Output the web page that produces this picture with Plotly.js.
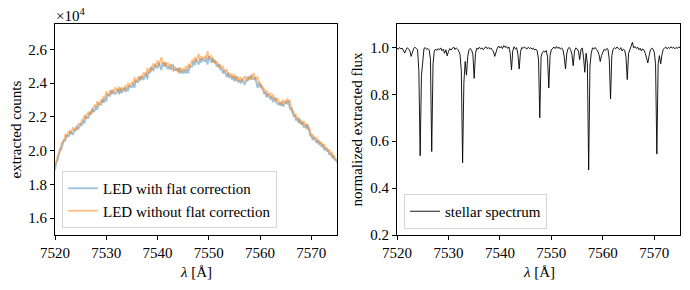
<!DOCTYPE html>
<html>
<head>
<meta charset="utf-8">
<script src="https://cdn.plot.ly/plotly-3.0.1.min.js"></script>
<style>html,body{margin:0;padding:0;background:#fff;}#chart{width:690px;height:290px;}</style>
</head>
<body>
<div id="chart"></div>
<script>
// wavelength grid [Å]
const wavelength = [7520,7520.25,7520.5,7520.75,7521,7521.25,7521.5,7521.75,7522,7522.25,7522.5,7522.75,7523,7523.25,7523.5,7523.75,7524,7524.25,7524.5,7524.75,7525,7525.25,7525.5,7525.75,7526,7526.25,7526.5,7526.75,7527,7527.25,7527.5,7527.75,7528,7528.25,7528.5,7528.75,7529,7529.25,7529.5,7529.75,7530,7530.25,7530.5,7530.75,7531,7531.25,7531.5,7531.75,7532,7532.25,7532.5,7532.75,7533,7533.25,7533.5,7533.75,7534,7534.25,7534.5,7534.75,7535,7535.25,7535.5,7535.75,7536,7536.25,7536.5,7536.75,7537,7537.25,7537.5,7537.75,7538,7538.25,7538.5,7538.75,7539,7539.25,7539.5,7539.75,7540,7540.25,7540.5,7540.75,7541,7541.25,7541.5,7541.75,7542,7542.25,7542.5,7542.75,7543,7543.25,7543.5,7543.75,7544,7544.25,7544.5,7544.75,7545,7545.25,7545.5,7545.75,7546,7546.25,7546.5,7546.75,7547,7547.25,7547.5,7547.75,7548,7548.25,7548.5,7548.75,7549,7549.25,7549.5,7549.75,7550,7550.25,7550.5,7550.75,7551,7551.25,7551.5,7551.75,7552,7552.25,7552.5,7552.75,7553,7553.25,7553.5,7553.75,7554,7554.25,7554.5,7554.75,7555,7555.25,7555.5,7555.75,7556,7556.25,7556.5,7556.75,7557,7557.25,7557.5,7557.75,7558,7558.25,7558.5,7558.75,7559,7559.25,7559.5,7559.75,7560,7560.25,7560.5,7560.75,7561,7561.25,7561.5,7561.75,7562,7562.25,7562.5,7562.75,7563,7563.25,7563.5,7563.75,7564,7564.25,7564.5,7564.75,7565,7565.25,7565.5,7565.75,7566,7566.25,7566.5,7566.75,7567,7567.25,7567.5,7567.75,7568,7568.25,7568.5,7568.75,7569,7569.25,7569.5,7569.75,7570,7570.25,7570.5,7570.75,7571,7571.25,7571.5,7571.75,7572,7572.25,7572.5,7572.75,7573,7573.25,7573.5,7573.75,7574,7574.25,7574.5,7574.75,7575];

// LED extracted counts, with flat correction
const ledWithFlat = [18840,19330,19400,19810,20120,20080,20400,20660,20560,20940,20860,20870,21160,21030,20940,21230,21200,21460,21270,21380,21600,21500,21760,21620,22040,21940,21930,22240,22180,22490,22320,22360,22630,22410,22780,22740,22720,23050,22840,23120,22910,23330,23260,23240,23580,23370,23490,23360,23460,23640,23340,23720,23420,23540,23740,23470,23730,23520,23870,23780,23750,24010,23720,24180,24100,24030,24380,24190,24420,24190,24380,24610,24220,24670,24580,24960,24810,24760,25090,24980,24870,25220,25020,24770,25200,24980,25230,24950,24830,24990,24800,25060,25070,24750,24780,24880,24660,24930,24580,24740,24570,24790,24570,24820,24580,25020,24960,24980,25280,25060,25420,25250,25090,25450,25210,25470,25330,25260,25480,25090,25590,25340,25210,25500,25210,25340,25020,25010,25130,24780,24860,24570,24750,24550,24350,24620,24320,24440,24210,24410,24110,24430,24160,24040,24200,23980,24240,24060,23900,24200,24100,24390,24230,24480,24250,24230,24370,24060,23720,24000,23750,23910,23580,23400,23430,23140,23390,23140,23030,23220,22870,23060,23150,22830,22730,22840,22660,22890,22610,22780,22920,22750,22980,22540,22430,22480,22070,22100,21780,21910,21650,21880,21540,21690,21360,21510,21320,21570,21210,20900,20900,20620,20800,20570,20450,20650,20370,20440,20220,20370,20030,20180,19960,20050,19750,19860,19640,19720,19460,19460,19280];

// LED extracted counts, without flat correction
const ledWithoutFlat = [19080,19290,19720,19810,20000,20440,20520,20580,20960,20780,21060,21150,20960,21190,21380,21190,21320,21220,21550,21580,21520,21820,21760,22100,21880,22140,22290,22120,22340,22210,22560,22680,22590,22930,22700,22860,23000,22850,23240,23120,23510,23210,23420,23560,23340,23610,23530,23720,23660,23480,23780,23400,23700,23660,23540,23870,23690,24000,23750,23940,24070,23930,24360,24020,24220,24390,24140,24430,24300,24630,24540,24410,24900,24630,24900,24680,25010,25160,24930,25140,25350,25020,25260,25530,25120,25260,24950,25150,25190,24990,25120,24820,24750,24990,24900,24720,24860,24570,24900,24700,24850,24710,25010,24820,25140,24900,25160,25340,25240,25540,25260,25490,25730,25370,25610,25350,25490,25620,25440,25890,25430,25580,25610,25220,25410,25140,25300,25170,24890,25100,24860,25010,24670,24750,24830,24420,24600,24400,24570,24290,24510,24110,24320,24360,24120,24340,24080,24260,24420,24200,24380,24150,24390,24200,24490,24590,24250,24260,24400,23920,24070,23670,23740,23680,23390,23580,23230,23380,23390,23100,23350,23060,22870,23070,23050,22800,22860,22690,23010,22900,22800,23070,22940,22980,22590,22240,22350,22020,22140,21870,21970,21600,21780,21530,21760,21510,21600,21250,21410,21220,20820,20980,20680,20770,20770,20450,20610,20400,20500,20210,20390,20100,20160,19930,20070,19820,19880,19600,19660,19460,19440];

// normalized stellar spectrum
const stellarFlux = [0.998,0.992,1.000,0.994,0.997,0.988,0.976,0.990,0.999,0.993,0.985,0.962,0.978,0.996,1.001,0.994,0.990,0.900,0.538,0.880,0.958,0.996,0.999,0.991,0.996,0.990,0.950,0.556,0.930,0.985,0.993,0.987,0.995,0.990,0.998,0.986,0.993,0.975,0.990,0.964,0.982,0.995,0.989,0.997,1.002,0.991,0.998,0.993,0.985,0.970,0.900,0.508,0.850,0.940,0.882,0.962,0.990,0.996,0.988,0.970,0.868,0.975,0.997,0.992,1.001,0.994,0.998,0.990,0.999,1.003,0.995,1.000,0.993,0.998,0.990,0.982,0.962,0.985,0.997,1.006,0.998,1.004,0.995,1.008,1.000,1.005,0.996,1.002,0.975,0.905,0.985,1.003,0.994,0.999,0.970,0.908,0.982,1.000,0.996,1.002,0.997,0.993,1.001,0.995,0.999,0.992,0.997,0.989,0.993,0.985,0.950,0.700,0.960,0.978,0.985,0.980,0.987,0.960,0.827,0.965,0.990,0.997,1.002,0.995,1.004,0.996,1.001,0.993,0.998,0.990,0.960,0.908,0.975,0.996,1.000,0.990,0.970,0.922,0.985,0.998,0.994,0.985,0.948,0.990,0.998,0.960,0.894,0.975,0.930,0.477,0.920,0.975,0.998,0.993,1.000,0.992,0.985,0.970,0.940,0.965,0.980,0.992,0.987,0.996,0.992,0.950,0.780,0.965,0.993,0.999,0.994,1.002,0.996,0.990,0.999,0.985,0.993,0.988,0.960,0.863,0.975,0.995,1.005,1.022,0.998,1.004,0.996,1.001,0.990,0.997,0.985,0.994,0.988,0.975,0.955,0.934,0.965,0.990,0.997,0.993,0.980,0.930,0.545,0.930,0.965,0.930,0.970,0.992,0.998,1.002,0.994,1.000,0.996,1.003,0.997,1.001,0.994,1.000,0.996,1.003,0.998];

const leftTickVals = [16000,18000,20000,22000,24000,26000];
const leftTickText = ['1.6','1.8','2.0','2.2','2.4','2.6'];
const rightTickVals = [0.2,0.4,0.6,0.8,1.0];
const rightTickText = ['0.2','0.4','0.6','0.8','1.0'];
const xTickVals = [7520,7530,7540,7550,7560,7570];
const xTickText = ['7520','7530','7540','7550','7560','7570'];

const FONT = 'Liberation Serif, DejaVu Serif, serif';
const FS = 15;

const traces = [
  {x: wavelength, y: ledWithFlat, type: 'scatter', mode: 'lines', name: 'LED with flat correction',
   line: {color: 'rgba(31,119,180,0.45)', width: 1.8}, xaxis: 'x', yaxis: 'y', legend: 'legend'},
  {x: wavelength, y: ledWithoutFlat, type: 'scatter', mode: 'lines', name: 'LED without flat correction',
   line: {color: 'rgba(255,127,14,0.5)', width: 1.8}, xaxis: 'x', yaxis: 'y', legend: 'legend'},
  {x: wavelength, y: stellarFlux, type: 'scatter', mode: 'lines', name: 'stellar spectrum',
   line: {color: '#000000', width: 0.9}, xaxis: 'x2', yaxis: 'y2', legend: 'legend2'}
];

const axisCommon = {
  showline: true, mirror: true, linecolor: '#000', linewidth: 1,
  ticks: 'outside', ticklen: 4, tickwidth: 1, tickcolor: '#000',
  showgrid: false, zeroline: false,
  tickfont: {family: FONT, size: FS, color: '#000'}
};

const legendCommon = {xanchor: 'left', yanchor: 'bottom', bgcolor: 'rgba(255,255,255,0.8)',
  bordercolor: '#d5d5d5', borderwidth: 1, font: {family: FONT, size: FS, color: '#000'}, itemwidth: 30};

const layout = {
  width: 690, height: 290,
  margin: {l: 0, r: 0, t: 0, b: 0},
  paper_bgcolor: '#fff', plot_bgcolor: '#fff',
  font: {family: FONT, size: FS, color: '#000'},
  xaxis: Object.assign({}, axisCommon, {domain: [55/690, 337/690], range: [7520, 7575], tickvals: xTickVals, ticktext: xTickText, anchor: 'y'}),
  yaxis: Object.assign({}, axisCommon, {domain: [55/290, 266/290], range: [15000, 27500], tickvals: leftTickVals, ticktext: leftTickText, anchor: 'x'}),
  xaxis2: Object.assign({}, axisCommon, {domain: [397/690, 680/690], range: [7520, 7575], tickvals: xTickVals, ticktext: xTickText, anchor: 'y2'}),
  yaxis2: Object.assign({}, axisCommon, {domain: [55/290, 266/290], range: [0.2, 1.1], tickvals: rightTickVals, ticktext: rightTickText, anchor: 'x2'}),
  legend: Object.assign({}, legendCommon, {x: 62/690, y: 62/290}),
  legend2: Object.assign({}, legendCommon, {x: 404/690, y: 61/290}),
  showlegend: true,
  annotations: [
    {text: 'extracted counts', textangle: -90, xref: 'paper', yref: 'paper', x: 16/690, y: (290-129.5)/290,
     xanchor: 'center', yanchor: 'middle', showarrow: false, font: {family: FONT, size: FS, color: '#000'}},
    {text: 'normalized extracted flux', textangle: -90, xref: 'paper', yref: 'paper', x: 357/690, y: (290-129.5)/290,
     xanchor: 'center', yanchor: 'middle', showarrow: false, font: {family: FONT, size: FS, color: '#000'}},
    {text: '<i>λ</i> [Å]', xref: 'paper', yref: 'paper', x: 196/690, y: 18/290,
     xanchor: 'center', yanchor: 'middle', showarrow: false, font: {family: FONT, size: FS, color: '#000'}},
    {text: '<i>λ</i> [Å]', xref: 'paper', yref: 'paper', x: 538.5/690, y: 18/290,
     xanchor: 'center', yanchor: 'middle', showarrow: false, font: {family: FONT, size: FS, color: '#000'}},
    {text: '×10<sup>4</sup>', xref: 'paper', yref: 'paper', x: 54/690, y: (290-15)/290,
     xanchor: 'left', yanchor: 'middle', showarrow: false, font: {family: FONT, size: FS, color: '#000'}}
  ]
};

Plotly.newPlot('chart', traces, layout, {displayModeBar: false, staticPlot: true});
</script>
</body>
</html>
